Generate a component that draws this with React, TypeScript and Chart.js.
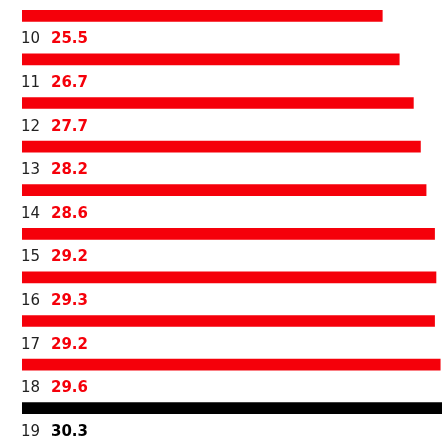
import React, { useEffect, useRef } from "react";
import { Chart, registerables } from "chart.js";

Chart.register(...registerables);

const categories = ["10", "11", "12", "13", "14", "15", "16", "17", "18", "19"];
const values = [25.5, 26.7, 27.7, 28.2, 28.6, 29.2, 29.3, 29.2, 29.6, 30.3];
const highlightIndex = 9;

const RED = "#f5000a";
const BLACK = "#000000";
const FONT = "'DejaVu Sans', sans-serif";

const labelPlugin = {
  id: "belowLabels",
  afterDatasetsDraw(chart: any) {
    const ctx = chart.ctx;
    const meta = chart.getDatasetMeta(0);
    const left = chart.chartArea.left;
    ctx.save();
    ctx.textBaseline = "alphabetic";
    ctx.textAlign = "left";
    meta.data.forEach((bar: any, i: number) => {
      const y = bar.y + 27.5;
      ctx.font = `400 15px ${FONT}`;
      ctx.fillStyle = "#222222";
      ctx.fillText(categories[i], left - 1, y);
      ctx.font = `700 15px ${FONT}`;
      ctx.fillStyle = i === highlightIndex ? BLACK : RED;
      ctx.fillText(values[i].toFixed(1), left + 29, y);
    });
    ctx.restore();
  },
};

export default function App() {
  const ref = useRef<HTMLCanvasElement | null>(null);
  useEffect(() => {
    if (!ref.current) return;
    const chart = new Chart(ref.current, {
      type: "bar",
      data: {
        labels: categories,
        datasets: [
          {
            data: values,
            backgroundColor: values.map((_, i) => (i === highlightIndex ? BLACK : RED)),
            barThickness: 11,
            borderWidth: 0,
          },
        ],
      },
      options: {
        indexAxis: "y",
        animation: false,
        responsive: true,
        maintainAspectRatio: false,
        layout: { padding: { left: 22, right: 0, top: 0, bottom: 30 } },
        plugins: { legend: { display: false }, tooltip: { enabled: false } },
        scales: {
          x: { display: false, min: 0, max: 31 },
          y: { display: false },
        },
      },
      plugins: [labelPlugin],
    });
    return () => chart.destroy();
  }, []);
  return (
    <div
      style={{
        position: "fixed",
        left: 0,
        top: 0,
        width: 442,
        height: 438,
        overflow: "hidden",
        background: "#fff",
      }}
    >
      <div style={{ position: "absolute", left: 0, top: -6, width: 460, height: 466 }}>
        <canvas ref={ref} />
      </div>
    </div>
  );
}
